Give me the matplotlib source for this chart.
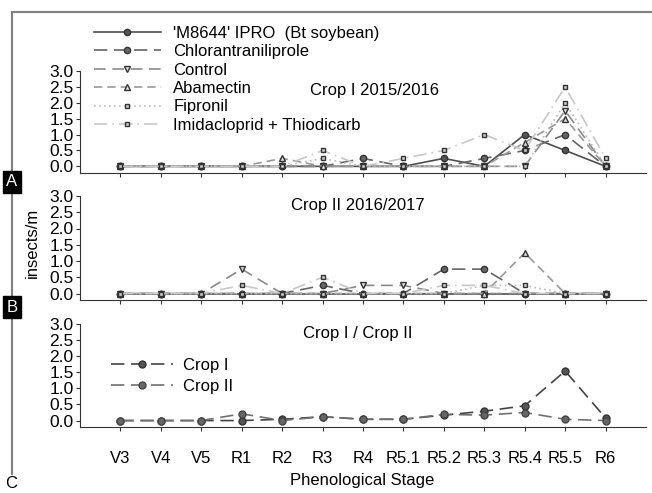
import matplotlib
matplotlib.use("Agg")
import matplotlib.pyplot as plt
from matplotlib.patches import Rectangle

plt.rcParams['font.family'] = ['Liberation Sans', 'DejaVu Sans']

stages = ['V3', 'V4', 'V5', 'R1', 'R2', 'R3', 'R4', 'R5.1', 'R5.2', 'R5.3', 'R5.4', 'R5.5', 'R6']

# crop I 2015/2016
m8644_1 = [0, 0, 0, 0, 0, 0, 0, 0, 0.25, 0, 1.0, 0.5, 0]
chlor_1 = [0, 0, 0, 0, 0, 0, 0.25, 0, 0, 0.25, 0.5, 1.0, 0]
control_1 = [0, 0, 0, 0, 0, 0, 0, 0, 0, 0, 0, 1.75, 0]
abam_1 = [0, 0, 0, 0, 0.25, 0, 0, 0, 0, 0, 0.75, 1.5, 0]
fipro_1 = [0, 0, 0, 0, 0, 0.25, 0, 0, 0, 0, 0, 2.0, 0]
imida_1 = [0, 0, 0, 0, 0, 0.5, 0, 0.25, 0.5, 1.0, 0.5, 2.5, 0.25]

# crop II 2016/2017
m8644_2 = [0, 0, 0, 0, 0, 0, 0, 0, 0, 0, 0, 0, 0]
chlor_2 = [0, 0, 0, 0, 0, 0.25, 0, 0, 0.75, 0.75, 0, 0, 0]
control_2 = [0, 0, 0, 0.75, 0, 0, 0.25, 0.25, 0, 0, 0, 0, 0]
abam_2 = [0, 0, 0, 0, 0, 0, 0, 0, 0, 0, 1.25, 0, 0]
fipro_2 = [0, 0, 0, 0, 0, 0, 0, 0, 0, 0.25, 0.25, 0, 0]
imida_2 = [0, 0, 0, 0.25, 0, 0.5, 0, 0, 0.25, 0.25, 0, 0, 0]

# crop I / crop II
crop1 = [0, 0, 0, 0, 0.04, 0.12, 0.04, 0.04, 0.17, 0.29, 0.46, 1.54, 0.08]
crop2 = [0, 0, 0, 0.21, 0, 0.12, 0.04, 0.04, 0.19, 0.17, 0.25, 0.04, 0]

names = ["'M8644' IPRO  (Bt soybean)", 'Chlorantraniliprole', 'Control',
         'Abamectin', 'Fipronil', 'Imidacloprid + Thiodicarb']

# line styles for the six treatments
styles = [
    dict(color='#4d4d4d', ls='-', marker='o', mfc='#555555', mec='#333333', ms=4.5),
    dict(color='#666666', ls=(0, (8, 4)), marker='o', mfc='#666666', mec='#333333', ms=4.5),
    dict(color='#8a8a8a', ls=(0, (7, 4)), marker='v', mfc='#dddddd', mec='#333333', ms=4),
    dict(color='#999999', ls=(0, (5, 3)), marker='^', mfc='#dddddd', mec='#333333', ms=4),
    dict(color='#bbbbbb', ls=(0, (1, 2)), marker='s', mfc='#cccccc', mec='#333333', ms=3.5),
    dict(color='#c8c8c8', ls=(0, (8, 3, 1, 3)), marker='s', mfc='#cccccc', mec='#333333', ms=3.5),
]

fig = plt.figure(figsize=(6.52, 4.93), dpi=100)

W, H = 652.0, 493.0
def axes_box(left, right, top, bottom):
    return [left / W, 1 - bottom / H, (right - left) / W, (bottom - top) / H]

axA = fig.add_axes(axes_box(80, 646, 71, 172.7))
axB = fig.add_axes(axes_box(80, 646, 196, 300))
axC = fig.add_axes(axes_box(80, 646, 324, 427))

x = list(range(len(stages)))

for ax in (axA, axB, axC):
    ax.set_xlim(-1, 13)
    ax.set_ylim(-0.2, 3.0)
    ax.set_yticks([0, 0.5, 1.0, 1.5, 2.0, 2.5, 3.0])
    ax.set_yticklabels(['0.0', '0.5', '1.0', '1.5', '2.0', '2.5', '3.0'], fontsize=12.5)
    ax.set_xticks(x)
    ax.spines['top'].set_visible(False)
    ax.spines['right'].set_visible(False)
    ax.spines['left'].set_color('#333333')
    ax.spines['bottom'].set_color('#333333')
    ax.tick_params(axis='y', length=3, pad=1.5, color='#333333')
    ax.tick_params(axis='x', length=3, color='#333333')
    ax.patch.set_alpha(0)

axA.set_xticklabels([])
axB.set_xticklabels([])
axC.set_xticklabels(stages, fontsize=12)
axC.tick_params(axis='x', pad=14)

series1 = [m8644_1, chlor_1, control_1, abam_1, fipro_1, imida_1]
series2 = [m8644_2, chlor_2, control_2, abam_2, fipro_2, imida_2]

handles = []
for vals, name, st in zip(series1, names, styles):
    h, = axA.plot(x, vals, lw=1.2, label=name, **st)
    handles.append(h)
for vals, st in zip(series2, styles):
    axB.plot(x, vals, lw=1.2, **st)

axA.text(0.52, 0.81, 'Crop I 2015/2016', transform=axA.transAxes, ha='center', va='center', fontsize=12)
axB.text(0.49, 0.91, 'Crop II 2016/2017', transform=axB.transAxes, ha='center', va='center', fontsize=12)
axC.text(0.49, 0.91, 'Crop I / Crop II', transform=axC.transAxes, ha='center', va='center', fontsize=12)

fig.legend(handles=handles, loc='upper left', bbox_to_anchor=(94 / W, 1 - 26 / H),
           frameon=False, fontsize=12, handlelength=4.0, handletextpad=0.75,
           labelspacing=0.2, borderpad=0, borderaxespad=0)

c1, = axC.plot(x, crop1, color='#444444', ls=(0, (8, 4)), lw=1.2, marker='o',
               mfc='#555555', mec='#333333', ms=5, label='Crop I')
c2, = axC.plot(x, crop2, color='#707070', ls=(0, (8, 4)), lw=1.2, marker='o',
               mfc='#666666', mec='#444444', ms=5, label='Crop II')
fig.legend(handles=[c1, c2], loc='upper left', bbox_to_anchor=(111 / W, 1 - 358 / H),
           frameon=False, fontsize=12, handlelength=3.7, handletextpad=0.6,
           labelspacing=0.35, borderpad=0, borderaxespad=0)

fig.text(32 / W, 1 - 243 / H, 'insects/m', rotation=90, ha='center', va='center', fontsize=12)
fig.text(362 / W, 1 - 481 / H, 'Phenological Stage', ha='center', va='center', fontsize=12)

# outer frame
fig.patches.append(Rectangle((12 / W, -0.1), 1.2, 1.1 - 12 / H, transform=fig.transFigure,
                             fill=False, edgecolor='#808080', lw=1.5))

# panel letters
for lab, yc in [('A', 182), ('B', 307)]:
    fig.text(12 / W, 1 - yc / H, lab, color='white', ha='center', va='center', fontsize=12,
             bbox=dict(facecolor='black', edgecolor='black', boxstyle='square,pad=0.2'))
fig.text(11 / W, 1 - 484 / H, 'C', color='black', ha='center', va='center', fontsize=12,
         bbox=dict(facecolor='white', edgecolor='none', boxstyle='square,pad=0.1'))

fig.savefig('out.png', dpi=100)
